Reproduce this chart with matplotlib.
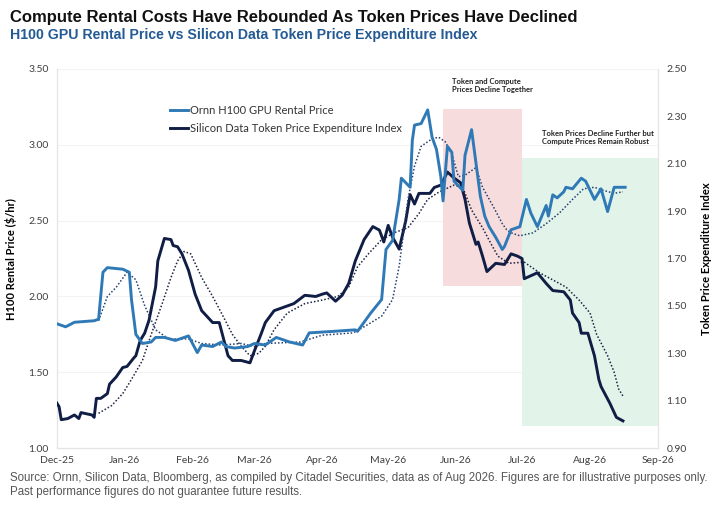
import matplotlib
matplotlib.use("Agg")
import matplotlib.pyplot as plt
import matplotlib.dates as mdates
import pandas as pd

# Ornn H100 GPU rental price ($/hr), left axis
ornn_dates = ["2025-12-01", "2025-12-05", "2025-12-09", "2025-12-18", "2025-12-20", "2025-12-22",
              "2025-12-24", "2025-12-31", "2026-01-03", "2026-01-04", "2026-01-06", "2026-01-09",
              "2026-01-13", "2026-01-15", "2026-01-19", "2026-01-24", "2026-01-30", "2026-02-03",
              "2026-02-05", "2026-02-10", "2026-02-14", "2026-02-16", "2026-02-20", "2026-02-26",
              "2026-03-01", "2026-03-06", "2026-03-11", "2026-03-17", "2026-03-23", "2026-03-26",
              "2026-04-06", "2026-04-16", "2026-04-17", "2026-04-23", "2026-04-28", "2026-04-30",
              "2026-05-03", "2026-05-06", "2026-05-07", "2026-05-11", "2026-05-12", "2026-05-13",
              "2026-05-16", "2026-05-19", "2026-05-21", "2026-05-23", "2026-05-25", "2026-05-26",
              "2026-05-28", "2026-05-30", "2026-05-31", "2026-06-04", "2026-06-05", "2026-06-08",
              "2026-06-10", "2026-06-12", "2026-06-14", "2026-06-16", "2026-06-19", "2026-06-22",
              "2026-06-23", "2026-06-26", "2026-06-30", "2026-07-03", "2026-07-05", "2026-07-08",
              "2026-07-12", "2026-07-13", "2026-07-15", "2026-07-17", "2026-07-20", "2026-07-21",
              "2026-07-24", "2026-07-28", "2026-07-30", "2026-08-03", "2026-08-06", "2026-08-09",
              "2026-08-12", "2026-08-17"]
ornn_price = [1.82, 1.80, 1.83, 1.84, 1.85, 2.16,
              2.19, 2.18, 2.16, 1.98, 1.75, 1.69,
              1.70, 1.73, 1.73, 1.71, 1.74, 1.63,
              1.68, 1.67, 1.70, 1.67, 1.66, 1.67,
              1.69, 1.68, 1.73, 1.70, 1.68, 1.76,
              1.77, 1.78, 1.77, 1.89, 1.98, 2.31,
              2.37, 2.64, 2.78, 2.72, 3.03, 3.13,
              3.14, 3.23, 3.05, 2.97, 2.79, 2.63,
              2.99, 2.95, 2.76, 2.70, 2.93, 3.10,
              2.88, 2.66, 2.53, 2.46, 2.39, 2.31,
              2.33, 2.44, 2.46, 2.64, 2.55, 2.46,
              2.60, 2.53, 2.67, 2.65, 2.69, 2.72,
              2.71, 2.78, 2.76, 2.64, 2.71, 2.56,
              2.72, 2.72]

# Ornn trend (dotted), left axis
ornn_ma_dates = ["2025-12-20", "2025-12-24", "2025-12-28", "2026-01-02", "2026-01-06", "2026-01-10",
                 "2026-01-15", "2026-01-21", "2026-01-30", "2026-02-05", "2026-02-14", "2026-02-23",
                 "2026-03-01", "2026-03-06", "2026-03-22", "2026-04-01", "2026-04-15", "2026-04-20",
                 "2026-04-28", "2026-05-03", "2026-05-06", "2026-05-08", "2026-05-10", "2026-05-13",
                 "2026-05-16", "2026-05-21", "2026-05-24", "2026-05-27", "2026-05-30", "2026-06-02",
                 "2026-06-05", "2026-06-10", "2026-06-13", "2026-06-18", "2026-06-22", "2026-06-24",
                 "2026-06-26", "2026-06-30", "2026-07-06", "2026-07-12", "2026-07-18", "2026-07-24",
                 "2026-07-29", "2026-08-03", "2026-08-07", "2026-08-12", "2026-08-16"]
ornn_ma = [1.84, 2.00, 2.06, 2.16, 2.11, 1.94,
           1.78, 1.72, 1.72, 1.69, 1.68, 1.69,
           1.67, 1.69, 1.70, 1.745, 1.76, 1.80,
           1.87, 1.98, 2.20, 2.42, 2.64, 2.86,
           2.99, 3.04, 3.05, 3.02, 2.94, 2.79,
           2.80, 2.85, 2.72, 2.59, 2.48, 2.44,
           2.42, 2.40, 2.42, 2.48, 2.55, 2.64,
           2.71, 2.72, 2.70, 2.68, 2.69]

# Silicon Data token price expenditure index, right axis
silicon_dates = ["2025-12-01", "2025-12-02", "2025-12-03", "2025-12-06", "2025-12-09", "2025-12-11",
                 "2025-12-12", "2025-12-17", "2025-12-18", "2025-12-19", "2025-12-21", "2025-12-24",
                 "2025-12-25", "2025-12-28", "2025-12-31", "2026-01-02", "2026-01-05", "2026-01-06",
                 "2026-01-08", "2026-01-10", "2026-01-12", "2026-01-15", "2026-01-16", "2026-01-19",
                 "2026-01-22", "2026-01-23", "2026-01-25", "2026-01-27", "2026-01-30", "2026-02-02",
                 "2026-02-05", "2026-02-10", "2026-02-13", "2026-02-17", "2026-02-19", "2026-02-23",
                 "2026-02-27", "2026-03-01", "2026-03-04", "2026-03-06", "2026-03-10", "2026-03-16",
                 "2026-03-19", "2026-03-24", "2026-03-29", "2026-04-01", "2026-04-03", "2026-04-07",
                 "2026-04-10", "2026-04-13", "2026-04-16", "2026-04-20", "2026-04-24", "2026-04-27",
                 "2026-04-29", "2026-05-01", "2026-05-03", "2026-05-06", "2026-05-09", "2026-05-11",
                 "2026-05-13", "2026-05-15", "2026-05-20", "2026-05-22", "2026-05-25", "2026-05-28",
                 "2026-05-31", "2026-06-03", "2026-06-05", "2026-06-07", "2026-06-10", "2026-06-11",
                 "2026-06-13", "2026-06-15", "2026-06-19", "2026-06-23", "2026-06-26", "2026-06-29",
                 "2026-07-01", "2026-07-02", "2026-07-08", "2026-07-12", "2026-07-15", "2026-07-20",
                 "2026-07-23", "2026-07-24", "2026-07-27", "2026-07-28", "2026-07-31", "2026-08-03",
                 "2026-08-05", "2026-08-06", "2026-08-10", "2026-08-13", "2026-08-16"]
silicon_index = [1.09, 1.075, 1.02, 1.025, 1.04, 1.025,
                 1.05, 1.04, 1.03, 1.11, 1.11, 1.13,
                 1.17, 1.20, 1.24, 1.245, 1.28, 1.29,
                 1.355, 1.385, 1.44, 1.58, 1.69, 1.785,
                 1.78, 1.755, 1.75, 1.72, 1.65, 1.55,
                 1.48, 1.43, 1.43, 1.29, 1.27, 1.27,
                 1.26, 1.31, 1.38, 1.43, 1.48, 1.50,
                 1.51, 1.545, 1.54, 1.55, 1.555, 1.52,
                 1.545, 1.595, 1.69, 1.78, 1.835, 1.82,
                 1.77, 1.84, 1.79, 1.74, 1.86, 1.97,
                 1.93, 1.975, 1.975, 2.00, 2.01, 2.065,
                 2.04, 2.02, 1.95, 1.85, 1.76, 1.77,
                 1.71, 1.645, 1.68, 1.675, 1.72, 1.71,
                 1.70, 1.615, 1.64, 1.595, 1.565, 1.56,
                 1.525, 1.47, 1.43, 1.385, 1.385, 1.29,
                 1.19, 1.16, 1.09, 1.03, 1.015]

# Silicon trend (dotted), right axis
silicon_ma_dates = ["2025-12-20", "2025-12-26", "2025-12-31", "2026-01-04", "2026-01-09", "2026-01-13",
                    "2026-01-18", "2026-01-22", "2026-01-25", "2026-01-28", "2026-01-31", "2026-02-05",
                    "2026-02-10", "2026-02-14", "2026-02-19", "2026-02-23", "2026-02-27", "2026-03-03",
                    "2026-03-06", "2026-03-10", "2026-03-16", "2026-03-24", "2026-04-01", "2026-04-08",
                    "2026-04-13", "2026-04-17", "2026-04-22", "2026-04-28", "2026-05-04", "2026-05-10",
                    "2026-05-15", "2026-05-19", "2026-05-24", "2026-05-31", "2026-06-04", "2026-06-08",
                    "2026-06-13", "2026-06-17", "2026-06-20", "2026-06-25", "2026-07-02", "2026-07-09",
                    "2026-07-17", "2026-07-21", "2026-07-27", "2026-08-01", "2026-08-04", "2026-08-09",
                    "2026-08-12", "2026-08-14", "2026-08-16"]
silicon_ma = [1.047, 1.08, 1.13, 1.19, 1.27, 1.38,
              1.51, 1.62, 1.69, 1.73, 1.72, 1.62,
              1.54, 1.47, 1.38, 1.33, 1.29, 1.30,
              1.33, 1.40, 1.47, 1.51, 1.525, 1.54,
              1.58, 1.665, 1.72, 1.78, 1.81, 1.83,
              1.89, 1.95, 1.98, 2.01, 2.00, 1.905,
              1.83, 1.76, 1.71, 1.68, 1.685, 1.64,
              1.60, 1.58, 1.525, 1.47, 1.38, 1.29,
              1.22, 1.15, 1.12]

# shaded periods: (start, end, low, high) on the right axis scale
together_period = ("2026-05-26", "2026-07-01", 1.585, 2.33)
robust_period = ("2026-07-01", "2026-09-01", 0.995, 2.125)

LIGHT_BLUE = "#2f7ab6"
NAVY = "#101d45"
TICK_FONT = "Lato"
HEAD_FONT = ["Liberation Sans Narrow", "Liberation Sans"]

fig = plt.figure(figsize=(7.2, 5.11), dpi=100)
ax = fig.add_axes([0.079, 0.123, 0.835, 0.742])
ax2 = ax.twinx()
# overlay for the Ornn lines so they sit above the shading of ax2
ax3 = fig.add_axes(ax.get_position(), sharex=ax)
ax3.axis("off")

ax.set_zorder(1)
ax2.set_zorder(2)
ax3.set_zorder(3)
ax.patch.set_visible(False)
ax2.patch.set_visible(False)
ax3.patch.set_visible(False)

for (start, end, low, high), colour in [(together_period, "#f6dcdc"), (robust_period, "#e2f4e9")]:
    ax2.fill_between(pd.to_datetime([start, end]), low, high, color=colour, lw=0, zorder=0)

ax2.plot(pd.to_datetime(silicon_ma_dates), silicon_ma, color="#1c2340", lw=1.1,
         linestyle=(0, (1, 1.3)), zorder=3)
ax2.plot(pd.to_datetime(silicon_dates), silicon_index, color=NAVY, lw=2.1, zorder=4,
         label="Silicon Data Token Price Expenditure Index")

ax3.plot(pd.to_datetime(ornn_ma_dates), ornn_ma, color="#24406e", lw=1.1,
         linestyle=(0, (1, 1.3)), zorder=3)
ax3.plot(pd.to_datetime(ornn_dates), ornn_price, color=LIGHT_BLUE, lw=2.1, zorder=4,
         label="Ornn H100 GPU Rental Price")
ax3.set_ylim(1.0, 3.5)

ax.set_ylim(1.0, 3.5)
ax.set_yticks([1.0, 1.5, 2.0, 2.5, 3.0, 3.5])
ax.set_yticklabels([f"{v:.2f}" for v in ax.get_yticks()])
ax2.set_ylim(0.9, 2.5)
ax2.set_yticks([0.9, 1.1, 1.3, 1.5, 1.7, 1.9, 2.1, 2.3, 2.5])
ax2.set_yticklabels([f"{v:.2f}" for v in ax2.get_yticks()])

ax.set_xlim(pd.Timestamp("2025-12-01"), pd.Timestamp("2026-09-01"))
ax.xaxis.set_major_locator(mdates.MonthLocator())
ax.xaxis.set_major_formatter(mdates.DateFormatter("%b-%y"))

for a in (ax, ax2):
    a.tick_params(length=0, labelsize=7.5, labelcolor="#404040", pad=6)
    for lab in a.get_xticklabels() + a.get_yticklabels():
        lab.set_fontfamily(TICK_FONT)
    for s in a.spines.values():
        s.set_color("#e4e4e4")
    a.spines["top"].set_visible(False)

ax.grid(axis="y", color="#f3f3f3", lw=0.8)
ax.set_axisbelow(True)

ax.set_ylabel("H100 Rental Price ($/hr)", fontsize=8, fontweight="bold", family=TICK_FONT, labelpad=8)
ax2.set_ylabel("Token Price Expenditure Index", fontsize=8, fontweight="bold", family=TICK_FONT,
               rotation=90, labelpad=10)

handles = ax3.get_legend_handles_labels()[0] + ax2.get_legend_handles_labels()[0]
leg = fig.legend(handles=handles, loc="upper left", bbox_to_anchor=(0.222, 0.815),
                 frameon=False, handlelength=1.6, handletextpad=0.2,
                 labelspacing=0.7, prop={"family": TICK_FONT, "size": 8})
for t in leg.get_texts():
    t.set_color("#333333")
leg.set_zorder(10)

ax3.text(pd.Timestamp("2026-05-30"), 3.39, "Token and Compute\nPrices Decline Together",
         fontsize=5.5, fontweight="bold", family=TICK_FONT, color="#222222", va="center", linespacing=1.1)
ax3.text(pd.Timestamp("2026-07-10"), 3.05, "Token Prices Decline Further but\nCompute Prices Remain Robust",
         fontsize=5.5, fontweight="bold", family=TICK_FONT, color="#222222", va="center", linespacing=1.1)

fig.text(0.014, 0.966, "Compute Rental Costs Have Rebounded As Token Prices Have Declined",
         fontsize=12, fontweight="bold", family=HEAD_FONT, color="#111111", va="center")
fig.text(0.014, 0.931, "H100 GPU Rental Price vs Silicon Data Token Price Expenditure Index",
         fontsize=10.2, fontweight="bold", family=HEAD_FONT, color="#245b94", va="center")
fig.text(0.014, 0.077, "Source: Ornn, Silicon Data, Bloomberg, as compiled by Citadel Securities, data as of Aug 2026. "
         "Figures are for illustrative purposes only.\nPast performance figures do not guarantee future results.",
         fontsize=8.3, family=HEAD_FONT, color="#555555", va="top", linespacing=1.25)

fig.savefig("out.png", dpi=100)
